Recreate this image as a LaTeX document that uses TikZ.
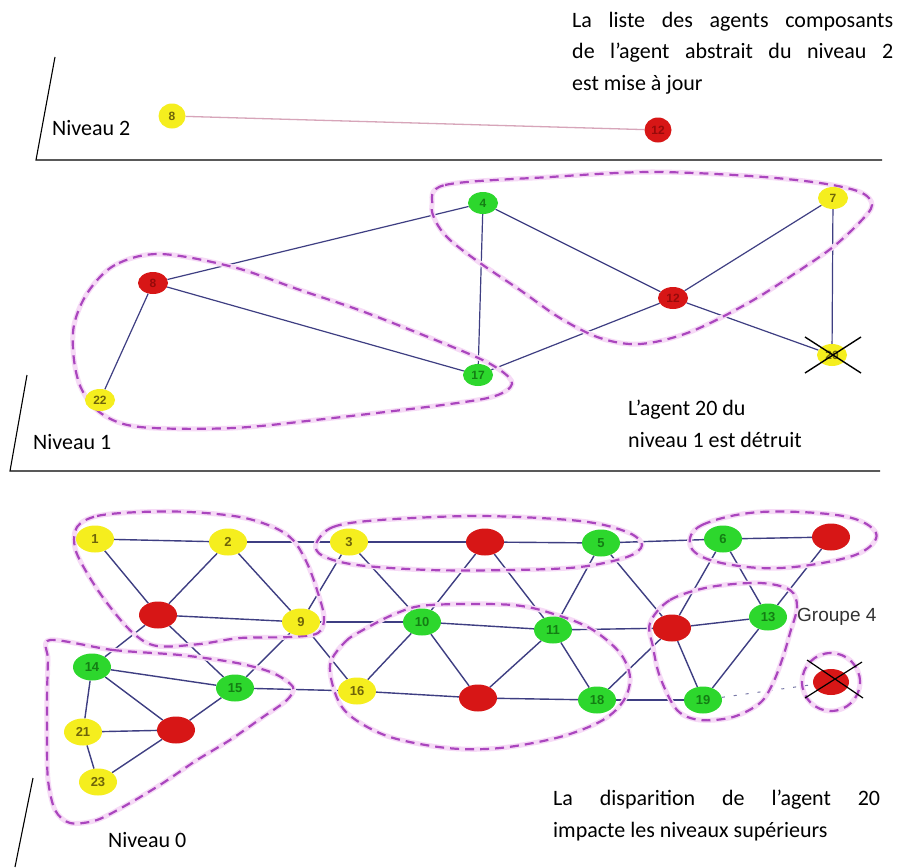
\documentclass[tikz,border=0pt]{standalone}
\usepackage{fontspec}
\setmainfont{Carlito}
\newfontfamily\arialf{Liberation Sans}
\usetikzlibrary{shapes.geometric}
\pgfdeclarelayer{bg}
\pgfsetlayers{bg,main}
\definecolor{agY}{RGB}{245,238,30}
\definecolor{agG}{RGB}{45,215,45}
\definecolor{agR}{RGB}{215,22,22}
\definecolor{agYt}{RGB}{110,100,10}
\definecolor{agGt}{RGB}{20,125,20}
\definecolor{agRt}{RGB}{150,10,10}
\definecolor{edgec}{RGB}{62,62,130}
\definecolor{grpc}{RGB}{170,70,190}
\definecolor{haloc}{RGB}{246,218,246}
\definecolor{linkc}{RGB}{215,165,185}
\tikzset{
  n0/.style={ellipse, minimum width=38pt, minimum height=27pt, inner sep=0pt,
     font=\arialf\bfseries\fontsize{13}{13}\selectfont},
  n1/.style={ellipse, minimum width=30pt, minimum height=22pt, inner sep=0pt,
     font=\arialf\bfseries\fontsize{12}{12}\selectfont},
  n2/.style={ellipse, minimum width=27pt, minimum height=25pt, inner sep=0pt,
     font=\arialf\bfseries\fontsize{12}{12}\selectfont},
  yel/.style={fill=agY, text=agYt},
  grn/.style={fill=agG, text=agGt},
  red/.style={fill=agR, text=agRt},
  edge/.style={draw=edgec, line width=1.4pt},
  grp/.style={draw=grpc, line width=2.2pt, dash pattern=on 9pt off 6pt,
     preaction={draw=haloc, line width=5pt, solid}},
  plane/.style={draw=black, line width=1.1pt},
  xmark/.style={draw=black, line width=1.4pt},
  lvl/.style={font=\fontsize{22}{26}\selectfont, inner sep=0pt, anchor=west},
}
\begin{document}
\begin{tikzpicture}[x=1pt,y=-1pt]
\begin{pgfonlayer}{bg}
\fill[white] (0,0) rectangle (899,867);
\end{pgfonlayer}
\useasboundingbox (0,0) rectangle (899,867);

% ---------- planes ----------
\coordinate (p2a) at (55,57);  \coordinate (p2b) at (36,160); \coordinate (p2c) at (882,160);
\coordinate (p1a) at (27,375); \coordinate (p1b) at (10,471); \coordinate (p1c) at (880,471);
\coordinate (p0a) at (33,778); \coordinate (p0b) at (15,867);
\draw[plane] (p2a) -- (p2b) -- (p2c);
\draw[plane] (p1a) -- (p1b) -- (p1c);
\draw[plane] (p0a) -- (p0b);

% ---------- texts ----------
\node[lvl] (t2) at (52,128) {Niveau 2};
\node[lvl] (t1) at (33,442) {Niveau 1};
\node[lvl] (t0) at (108,840) {Niveau 0};
\node[anchor=north west, inner sep=0pt, text width=321pt, align=justify,
      font=\fontsize{22}{31.5}\selectfont] (ttop) at (572,12)
  {La liste des agents composants\linebreak de l’agent abstrait du niveau 2\linebreak est mise à jour};
\node[anchor=north west, inner sep=0pt, align=left,
      font=\fontsize{22}{32}\selectfont] (tmid) at (628,400)
  {L’agent 20 du\\ niveau 1 est détruit};
\node[anchor=north west, inner sep=0pt, text width=327pt, align=justify,
      font=\fontsize{22}{32}\selectfont] (tbot) at (553,790)
  {La disparition de l’agent 20\linebreak impacte les niveaux supérieurs};
\node[anchor=west, inner sep=0pt, font=\arialf\fontsize{19}{19}\selectfont, text=black!80] (tg4) at (797,617) {Groupe 4};

% ---------- level 2 ----------
\node[n2,yel] (c8) at (172,116) {8};
\node[n2,red] (c12) at (658,130) {12};
\begin{pgfonlayer}{bg}
\draw[draw=linkc, line width=1.3pt] (c8) -- (c12);
\end{pgfonlayer}

% ---------- level 1 ----------
\node[n1,red] (a8) at (153,283) {8};
\node[n1,yel] (a22) at (100,400) {22};
\node[n1,grn] (a4) at (483,203) {4};
\node[n1,grn] (a17) at (478,375) {17};
\node[n1,red] (a12) at (673,298) {12};
\node[n1,yel] (a7) at (833,198) {7};
\node[n1,yel] (a20) at (832,355) {20};
\draw[xmark] ([shift={(-27,-18)}]a20.center) -- ([shift={(29,18)}]a20.center);
\draw[xmark] ([shift={(-27,18)}]a20.center) -- ([shift={(29,-18)}]a20.center);

\begin{pgfonlayer}{bg}
\foreach \u/\v in {a8/a4, a8/a17, a8/a22, a4/a17, a4/a12, a12/a17, a12/a7, a12/a20, a7/a20}
  \draw[edge, line width=1.2pt] (\u) -- (\v);
\draw[grp] plot[smooth cycle, tension=0.55] coordinates {
  (160,254) (115,265) (88,292) (74,325) (74,360) (82,390) (102,414) (140,427)
  (233,428) (333,418) (450,404) (495,396) (512,384) (500,370) (467,353)
  (367,313) (300,290) (233,267)};
\draw[grp] plot[smooth cycle, tension=0.55] coordinates {
  (432,205) (445,185) (550,177) (650,172) (750,176) (820,183) (860,192) (872,205)
  (860,222) (833,247) (800,270) (750,302) (690,332) (640,344) (600,338) (560,318)
  (520,290) (480,263) (450,240) (436,222)};
\end{pgfonlayer}

% ---------- level 0 ----------
\node[n0,yel] (b1) at (95,539) {1};
\node[n0,yel] (b2) at (228,542) {2};
\node[n0,yel] (b3) at (349,542) {3};
\node[n0,red] (r1) at (485,542) {};
\node[n0,grn] (b5) at (601,543) {5};
\node[n0,grn] (b6) at (723,539) {6};
\node[n0,red] (r7) at (831,537) {};
\node[n0,red] (ra) at (158,615) {};
\node[n0,yel] (b9) at (301,622) {9};
\node[n0,grn] (b10) at (422,622) {10};
\node[n0,grn] (b11) at (553,630) {11};
\node[n0,red] (rb) at (672,628) {};
\node[n0,grn] (b13) at (768,617) {13};
\node[n0,grn] (b14) at (92,667) {14};
\node[n0,grn] (b15) at (235,688) {15};
\node[n0,yel] (b16) at (357,691) {16};
\node[n0,red] (rc) at (478,698) {};
\node[n0,grn] (b18) at (597,700) {18};
\node[n0,grn] (b19) at (703,700) {19};
\node[n0,red, minimum width=36pt, minimum height=26pt] (b20) at (831,682) {};
\node[n0,yel] (b21) at (83,732) {21};
\node[n0,red] (rd) at (176,730) {};
\node[n0,yel] (b23) at (98,782) {23};
\draw[xmark, line width=1.2pt] ([shift={(-24,-22)}]b20.center) -- ([shift={(32,16)}]b20.center);
\draw[xmark, line width=1.2pt] ([shift={(-26,16)}]b20.center) -- ([shift={(31,-20)}]b20.center);

\begin{pgfonlayer}{bg}
\foreach \u/\v in {b1/b2, b2/b3, b3/r1, r1/b5, b5/b6, b6/r7,
                   ra/b9, b9/b10, b10/b11, b11/rb, rb/b13,
                   b14/b15, b15/b16, b16/rc, rc/b18, b18/b19,
                   b1/ra, b2/ra, b2/b9, b3/b9, b3/b10, r1/b10, r1/b11, b5/b11, b5/rb,
                   b6/rb, b6/b13, r7/b13,
                   ra/b14, ra/b15, b9/b15, b9/b16, b10/b16, b10/rc, b11/rc, b11/b18,
                   rb/b18, rb/b19, b13/b19,
                   b14/b21, b14/rd, b21/rd, b21/b23, b23/rd, b15/rd}
  \draw[edge] (\u) -- (\v);
\draw[draw=edgec!70, line width=1pt, dash pattern=on 3pt off 9pt] (b19) -- (b20);
% group 1,2,red,9
\draw[grp] plot[smooth cycle, tension=0.55] coordinates {
  (77,527) (97,516) (140,512) (190,512) (240,517) (273,527) (293,540) (307,563)
  (317,590) (324,617) (318,633) (290,637) (240,638) (200,644) (157,646)
  (133,633) (107,603) (87,573) (75,548)};
% group 14,21,23,red,15
\draw[grp] plot[smooth cycle, tension=0.5] coordinates {
  (50,640) (113,650) (180,655) (237,663) (273,673) (293,687) (287,700)
  (263,717) (230,740) (197,760) (163,783) (130,803) (97,820) (70,823) (55,810)
  (48,780) (47,740) (47,700) (48,660)};
% group 3,red,5
\draw[grp] plot[smooth cycle, tension=0.55] coordinates {
  (316,544) (333,527) (380,520) (480,516) (580,521) (627,532) (642,545)
  (627,557) (580,567) (513,570) (430,570) (357,565) (323,556)};
% group 10,11,16,red,18
\draw[grp] plot[smooth cycle, tension=0.55] coordinates {
  (330,665) (345,642) (363,630) (397,613) (430,605) (513,605) (560,616)
  (593,630) (620,653) (630,677) (624,700) (603,720) (560,737) (500,748)
  (447,748) (390,737) (353,718) (337,698)};
% group red,13,19 (Groupe 4)
\draw[grp] plot[smooth cycle, tension=0.55] coordinates {
  (650,623) (670,600) (710,587) (760,583) (790,590) (797,607) (790,633)
  (783,657) (773,683) (760,703) (733,717) (700,720) (677,710) (660,677) (653,647)};
% group 6,red
\draw[grp] plot[smooth cycle, tension=0.6] coordinates {
  (690,545) (702,525) (760,512) (843,516) (876,533) (860,553) (810,565)
  (760,568) (710,560)};
% group 20
\draw[grp] (b20.center) circle[radius=29pt];
\end{pgfonlayer}
\end{tikzpicture}
\end{document}
